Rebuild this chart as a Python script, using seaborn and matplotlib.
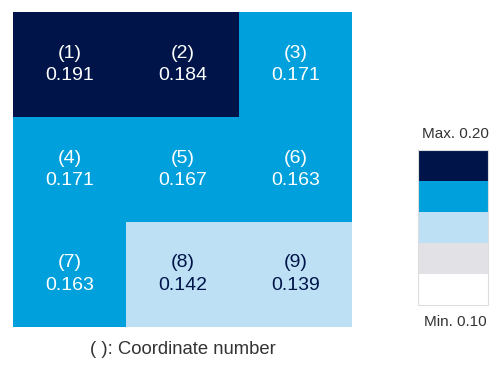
import numpy as np
import matplotlib
matplotlib.use("Agg")
import matplotlib.pyplot as plt
from matplotlib.colors import ListedColormap, BoundaryNorm
import seaborn as sns

# grid values (row-major, coordinate numbers 1..9)
coord_ids = [[1, 2, 3], [4, 5, 6], [7, 8, 9]]
values = [[0.191, 0.184, 0.171],
          [0.171, 0.167, 0.163],
          [0.163, 0.142, 0.139]]
bounds = [0.10, 0.12, 0.135, 0.16, 0.18, 0.20]
palette = ["#ffffff", "#e1e1e6", "#bde0f5", "#00a0dc", "#00144a"]

sns.set_style("white")
plt.rcParams['font.family'] = ['Liberation Sans', 'DejaVu Sans']

data = np.array(values)
labels = np.array([[f"({c})\n{v:.3f}" for c, v in zip(cr, vr)]
                   for cr, vr in zip(coord_ids, values)])

cmap = ListedColormap(palette)
norm = BoundaryNorm(bounds, cmap.N)

fig = plt.figure(figsize=(5, 3.66), dpi=100)
ax = fig.add_axes([0.026, 0.107, 0.678, 0.86])
cax = fig.add_axes([0.836, 0.167, 0.14, 0.423])

sns.heatmap(data, ax=ax, cmap=cmap, norm=norm, annot=labels, fmt="",
            annot_kws={"fontsize": 14, "linespacing": 1.45},
            cbar_ax=cax, xticklabels=False, yticklabels=False)

# text colour: white on dark cells, navy on light ones
for t, v in zip(ax.texts, data.flatten()):
    t.set_color("white" if v >= 0.16 else "#00144a")

cb = ax.collections[0].colorbar
cb.set_ticks([])
cb.minorticks_off()
cax.tick_params(which="both", length=0, labelright=False, labelleft=False)
cb.outline.set_edgecolor("#dddddd")
cb.outline.set_linewidth(0.8)

fig.text(0.91, 0.635, "Max. 0.20", ha="center", va="center", fontsize=11, color="#333333")
fig.text(0.91, 0.12, "Min. 0.10", ha="center", va="center", fontsize=11, color="#333333")
fig.text(0.366, 0.045, "( ): Coordinate number", ha="center", va="center",
         fontsize=13.3, color="#333333")

fig.savefig("out.png", dpi=100)
